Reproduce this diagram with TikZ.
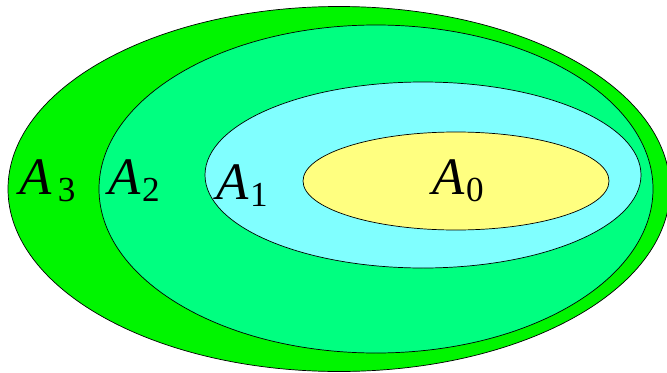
\documentclass[tikz,border=0pt]{standalone}
\usepackage{fontspec}
\setmainfont{Liberation Serif}
\newfontfamily\setfont{Liberation Serif}
\usetikzlibrary{shapes.geometric}

\definecolor{setthree}{RGB}{0,245,0}
\definecolor{settwo}{RGB}{0,255,128}
\definecolor{setone}{RGB}{128,255,255}
\definecolor{setzero}{RGB}{255,255,128}

% set name: italic A with an upright index
\newcommand{\setname}[2][0.03em]{{\itshape A}\kern#1{\fontsize{30}{30}\selectfont\raisebox{-0.22em}{#2}}}

\begin{document}
\begin{tikzpicture}[
  region/.style={ellipse, draw=black, line width=0.6pt, inner sep=0pt},
  lbl/.style={anchor=base, inner sep=0pt, font=\setfont\fontsize{45}{45}\selectfont}
]
  \useasboundingbox (0,0) rectangle (20.01,11.16);

  % nested sets
  \node[region, fill=setthree, minimum width=19.86cm, minimum height=10.95cm] (a3) at (10.17,5.49) {};
  \node[region, fill=settwo, minimum width=16.62cm, minimum height=9.84cm] (a2) at (11.28,5.49) {};
  \node[region, fill=setone, minimum width=13.08cm, minimum height=5.58cm] (a1) at (12.69,5.91) {};
  \node[region, fill=setzero, minimum width=9.18cm, minimum height=2.94cm] (a0) at (13.68,5.73) {};

  % labels
  \node[lbl] (l3) at (1.42,5.34) {\setname[0.12em]{3}};
  \node[lbl] (l2) at (4.02,5.34) {\setname{2}};
  \node[lbl] (l1) at (7.26,5.19) {\setname{1}};
  \node[lbl] (l0) at (13.74,5.34) {\setname{0}};
\end{tikzpicture}
\end{document}
